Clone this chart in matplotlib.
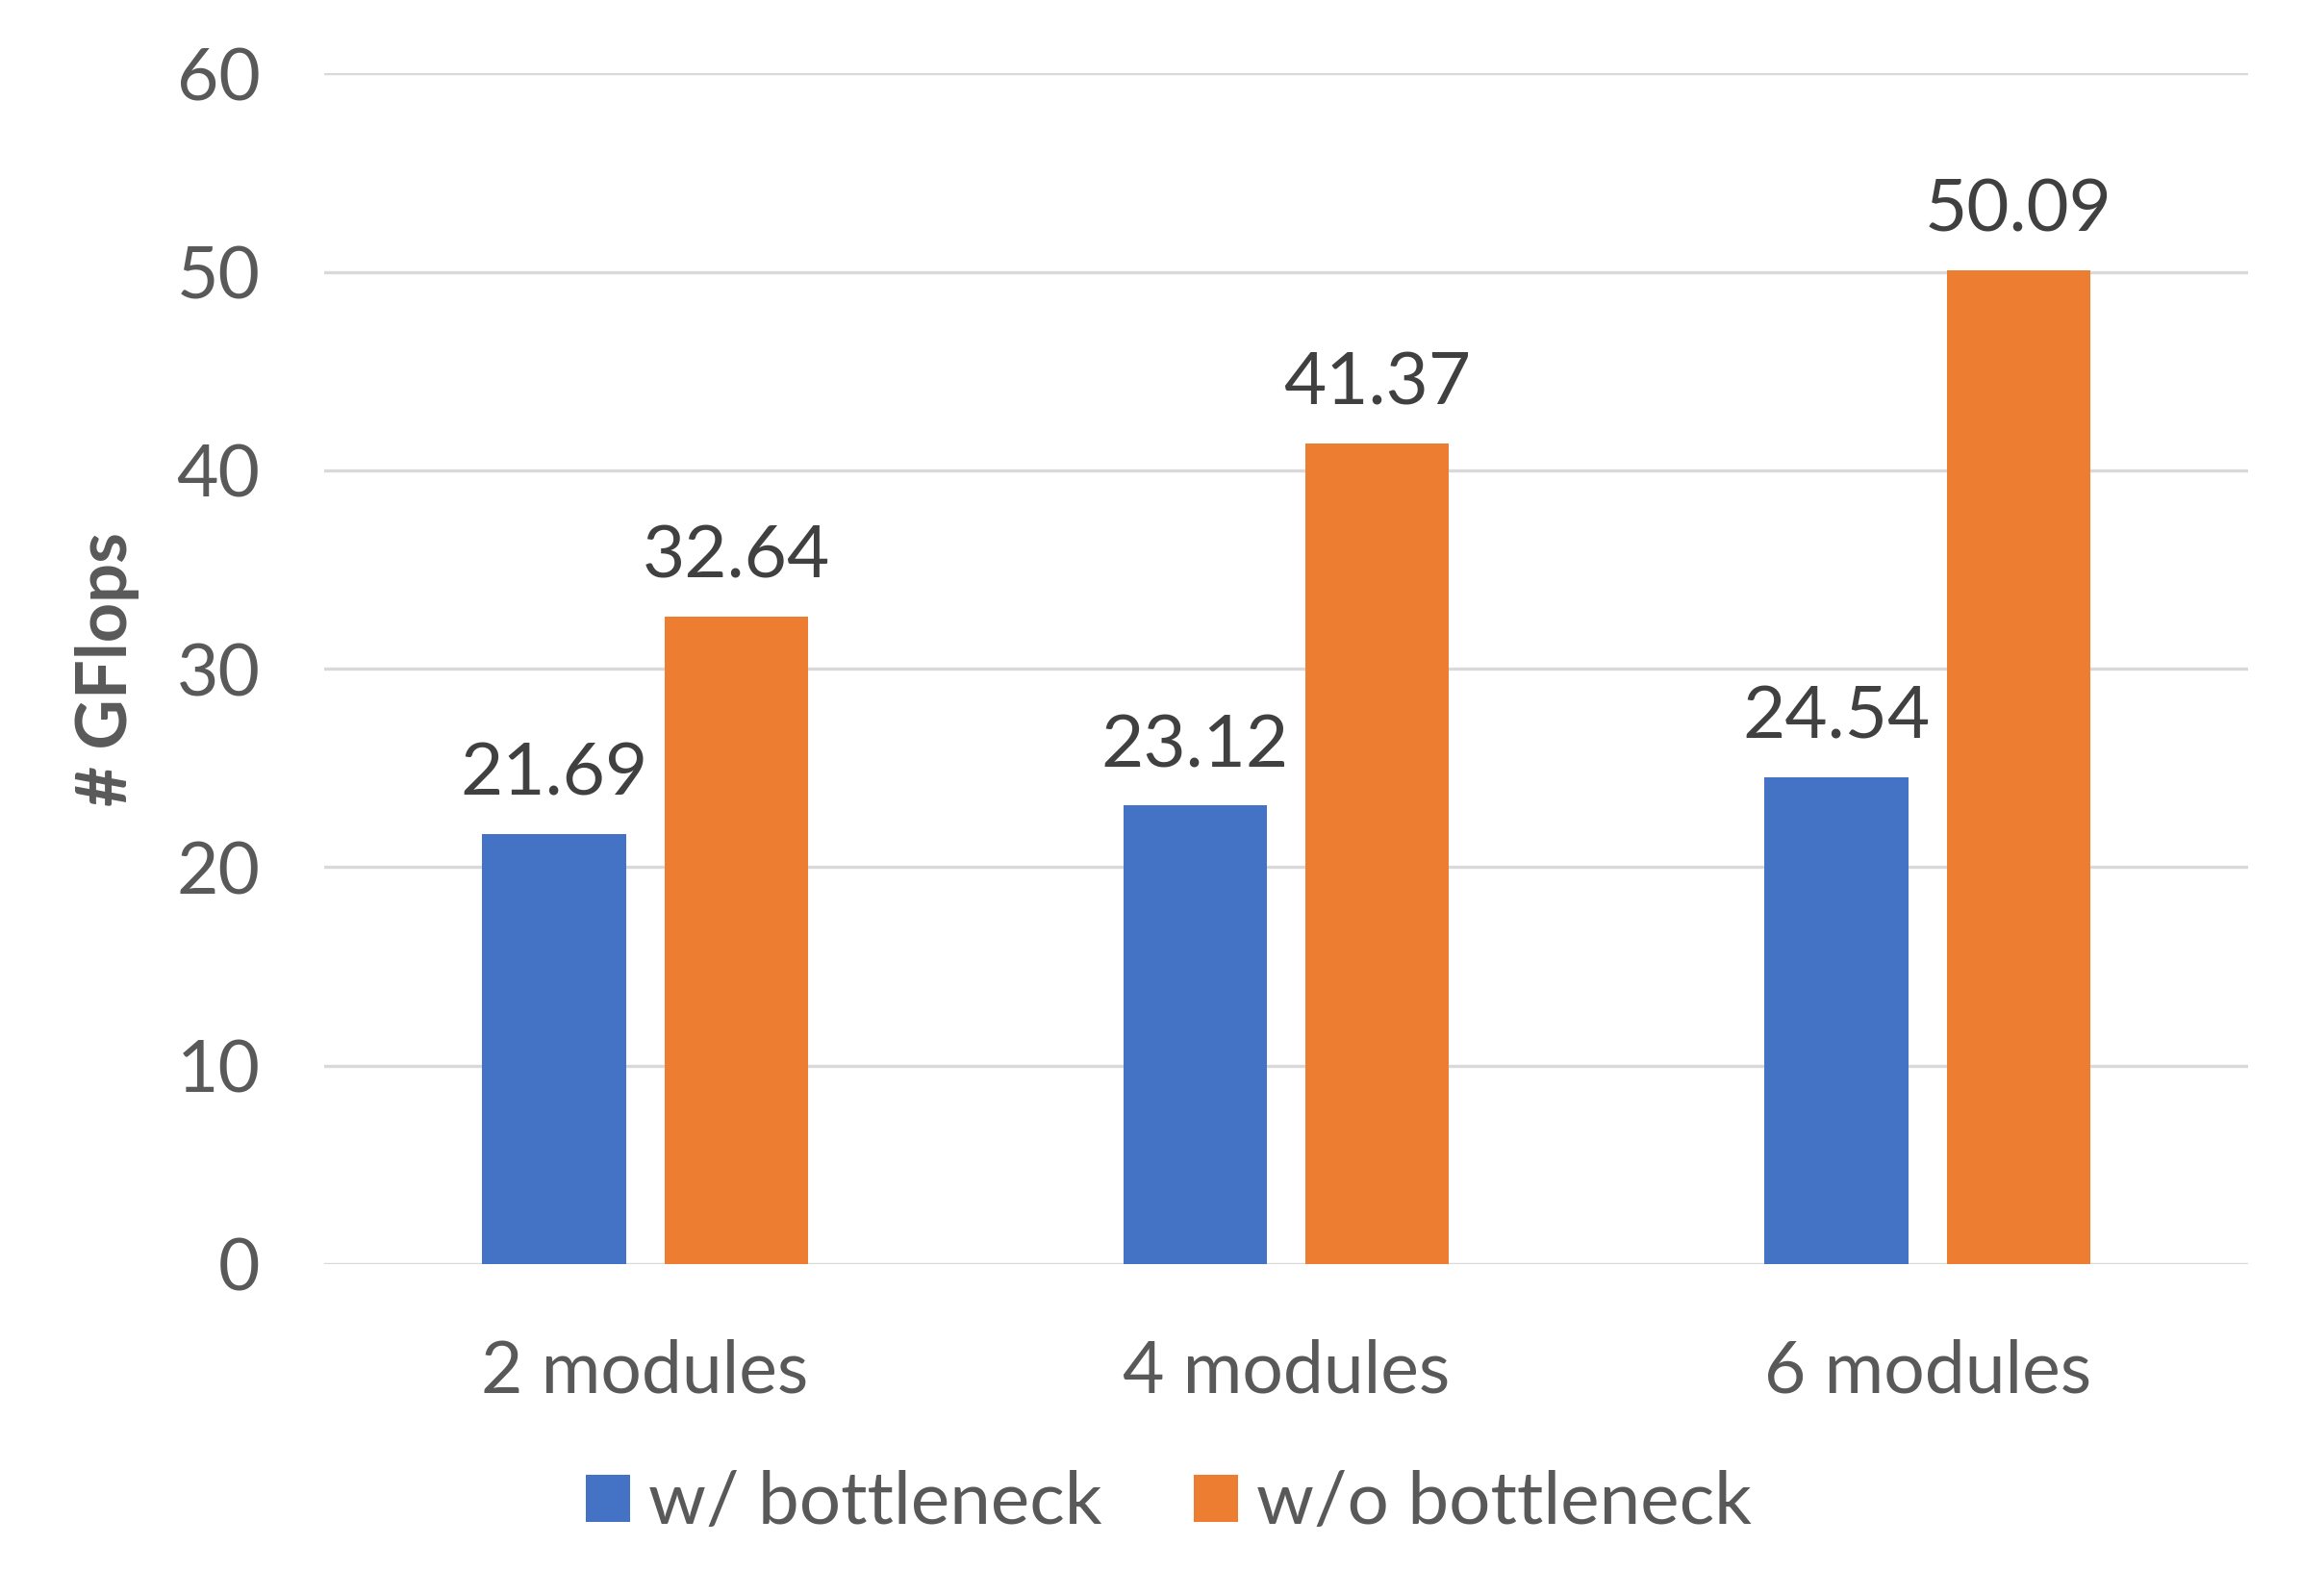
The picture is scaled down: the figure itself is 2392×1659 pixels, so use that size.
import numpy as np
import matplotlib.pyplot as plt

plt.rcParams['font.family'] = ['Lato', 'DejaVu Sans']

categories = ['2 modules', '4 modules', '6 modules']
with_bottleneck = [21.69, 23.12, 24.54]
without_bottleneck = [32.64, 41.37, 50.09]
series_names = ['w/ bottleneck', 'w/o bottleneck']

blue = '#4472C4'
orange = '#ED7D31'

fig = plt.figure(figsize=(11.96, 8.295), dpi=200)
ax = fig.add_axes([0.141, 0.208, 0.836, 0.746])

x = np.arange(len(categories))
w = 0.224
off = 0.142
b1 = ax.bar(x - off, with_bottleneck, w, color=blue, label=series_names[0], zorder=3)
b2 = ax.bar(x + off, without_bottleneck, w, color=orange, label=series_names[1], zorder=3)

for bars, vals in ((b1, with_bottleneck), (b2, without_bottleneck)):
    for r, v in zip(bars, vals):
        ax.text(r.get_x() + r.get_width() / 2, v + 1.3, f'{v:.2f}',
                ha='center', va='bottom', fontsize=27.5, color='#404040')

ax.set_xlim(-0.5, 2.5)
ax.set_ylim(0, 60)
ax.set_yticks(range(0, 61, 10))
ax.yaxis.grid(True, color='#d9d9d9', linewidth=1.2, zorder=0)
for s in ax.spines.values():
    s.set_visible(False)
ax.tick_params(axis='both', length=0, labelsize=27, labelcolor='#595959')
ax.tick_params(axis='y', pad=24)
ax.tick_params(axis='x', pad=28)
ax.set_xticks(x)
ax.set_xticklabels(categories)
ax.set_ylabel('# GFlops', fontsize=26, fontweight='bold', color='#595959', labelpad=14)

fig.legend(handles=[b1, b2], loc='center', bbox_to_anchor=(0.508, 0.058), ncol=2,
           frameon=False, fontsize=27.5, labelcolor='#595959', handlelength=0.6,
           handleheight=0.6, handletextpad=0.25, columnspacing=1.25)

fig.savefig('out.png', dpi=200)
